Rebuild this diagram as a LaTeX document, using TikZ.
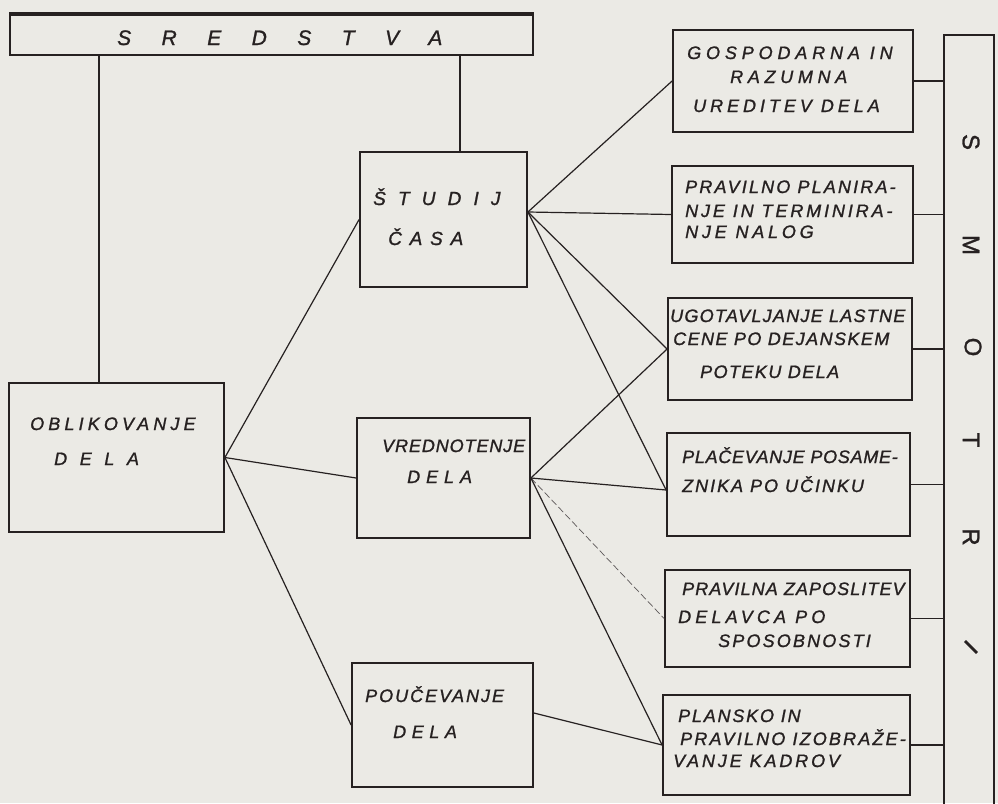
\documentclass[tikz,border=0pt]{standalone}
\usepackage{fontspec}
\setmainfont{Liberation Sans}[FakeBold=1.2]
\usetikzlibrary{calc}
\definecolor{paper}{RGB}{235,234,229}
\definecolor{ink}{RGB}{38,33,33}
\newcommand\lsp[2]{{\addfontfeature{LetterSpace=#1}#2}}
\begin{document}
\begin{tikzpicture}[x=1pt,y=-1pt,
  box/.style={draw=ink, line width=1.8pt, inner sep=0pt},
  lbl/.style={anchor=base west, inner sep=0pt, text=ink, font=\fontsize{18}{20}\selectfont\itshape},
  big/.style={inner sep=0pt, text=ink, font=\fontsize{24}{26}\selectfont},
  conn/.style={draw=ink, line width=1.2pt},
  link/.style={draw=ink, line width=1.6pt},
  faint/.style={draw=ink!75, line width=0.7pt, dash pattern=on 7pt off 3pt}]
\useasboundingbox (0,0) rectangle (998,803);
\fill[paper] (0,0) rectangle (998,803);

% boxes
\node[box, minimum width=523pt, minimum height=40pt] (sred) at (271.5,35) {};
\node[box, minimum width=167pt, minimum height=135pt] (stud) at (443.5,219.5) {};
\node[box, minimum width=215pt, minimum height=149pt] (obl) at (116.5,457.5) {};
\node[box, minimum width=173pt, minimum height=120pt] (vred) at (443.5,478) {};
\node[box, minimum width=181pt, minimum height=124pt] (pouc) at (442.5,725) {};
\node[box, minimum width=240pt, minimum height=102pt] (gosp) at (793,81) {};
\node[box, minimum width=241pt, minimum height=97pt] (plan) at (792.5,214.5) {};
\node[box, minimum width=244pt, minimum height=102pt] (ugot) at (790,349) {};
\node[box, minimum width=243pt, minimum height=103pt] (plac) at (788.5,484.5) {};
\node[box, minimum width=245pt, minimum height=97pt] (zap) at (787.5,618.5) {};
\node[box, minimum width=247pt, minimum height=100pt] (plk) at (786.5,745) {};
\node[box, minimum width=50pt, minimum height=865pt] (smotri) at (969,467.5) {};
\draw[ink, line width=3.8pt] (sred.north west) -- (sred.north east);

% texts
\node[lbl, font=\fontsize{21}{23}\selectfont\itshape] (tsred) at (117,45) {\lsp{145}{SREDSTVA}};
\node[lbl, font=\fontsize{19}{21}\selectfont\itshape] (tstud1) at (373,205) {\lsp{64}{ŠTUDIJ}};
\node[lbl, font=\fontsize{19}{21}\selectfont\itshape] (tstud2) at (388,245) {\lsp{41}{ČASA}};
\node[lbl] (tobl1) at (30,430) {\lsp{23}{OBLIKOVANJE}};
\node[lbl] (tobl2) at (54,465) {\lsp{70}{DELA}};
\node[lbl] (tvred1) at (382,452) {\lsp{5}{VREDNOTENJE}};
\node[lbl] (tvred2) at (407,483) {\lsp{33}{DELA}};
\node[lbl] (tpouc1) at (365,702) {\lsp{11}{POUČEVANJE}};
\node[lbl] (tpouc2) at (393,738) {\lsp{31}{DELA}};
\node[lbl] (tgosp1) at (687,59) {\lsp{27}{GOSPODARNA IN}};
\node[lbl] (tgosp2) at (730,83) {\lsp{26}{RAZUMNA}};
\node[lbl] (tgosp3) at (693,112) {\lsp{22}{UREDITEV DELA}};
\node[lbl] (tplan1) at (685,193) {\lsp{12}{PRAVILNO PLANIRA-}};
\node[lbl] (tplan2) at (685,217) {\lsp{16}{NJE IN TERMINIRA-}};
\node[lbl] (tplan3) at (685,238) {\lsp{21}{NJE NALOG}};
\node[lbl] (tugot1) at (670,322) {\lsp{7}{UGOTAVLJANJE LASTNE}};
\node[lbl] (tugot2) at (673,345) {\lsp{8}{CENE PO DEJANSKEM}};
\node[lbl] (tugot3) at (700,378) {\lsp{8}{POTEKU DELA}};
\node[lbl] (tplac1) at (682,463) {\lsp{4}{PLAČEVANJE POSAME-}};
\node[lbl] (tplac2) at (682,492) {\lsp{11}{ZNIKA PO UČINKU}};
\node[lbl] (tzap1) at (682,595) {\lsp{6}{PRAVILNA ZAPOSLITEV}};
\node[lbl] (tzap2) at (678,623) {\lsp{23}{DELAVCA PO}};
\node[lbl] (tzap3) at (718,647) {\lsp{12}{SPOSOBNOSTI}};
\node[lbl] (tplk1) at (678,722) {\lsp{10}{PLANSKO IN}};
\node[lbl] (tplk2) at (680,745) {\lsp{12}{PRAVILNO IZOBRAŽE-}};
\node[lbl] (tplk3) at (673,767) {\lsp{16}{VANJE KADROV}};

% SMOTRI, written downwards
\node[big, rotate=-90] (sm1) at (971,142) {S};
\node[big, rotate=-90] (sm2) at (971,245) {M};
\node[big, rotate=-90] (sm3) at (973,347) {O};
\node[big, rotate=-90] (sm4) at (971,440) {T};
\node[big, rotate=-90] (sm5) at (971,537) {R};
\node[big, rotate=45] (sm6) at (971,647) {I};

% links from SREDSTVA
\draw[link] ([xshift=91pt]obl.north west) -- ([xshift=91pt]obl.north west |- sred.south);
\draw[link] ([xshift=101pt]stud.north west) -- ([xshift=101pt]stud.north west |- sred.south);

% connectors
\draw[conn] (obl.east) -- (stud.west);
\draw[conn] (obl.east) -- (vred.west);
\draw[conn] (obl.east) -- (pouc.west);
\draw[conn] ([yshift=7.5pt]stud.east) -- (gosp.west);
\draw[conn] ([yshift=7.5pt]stud.east) -- (plan.west);
\draw[conn] ([yshift=7.5pt]stud.east) -- (ugot.west);
\draw[conn] ([yshift=7.5pt]stud.east) -- ([yshift=-5.5pt]plac.west);
\draw[conn] (vred.east) -- (ugot.west);
\draw[conn] (vred.east) -- ([yshift=-5.5pt]plac.west);
\draw[faint] (vred.east) -- (zap.west);
\draw[conn] (vred.east) -- (plk.west);
\draw[conn] ([yshift=12pt]pouc.east) -- (plk.west);

% to SMOTRI
\draw[link] (gosp.east) -- (gosp.east -| smotri.west);
\draw[link] (plan.east) -- (plan.east -| smotri.west);
\draw[link] (ugot.east) -- (ugot.east -| smotri.west);
\draw[link] (plac.east) -- (plac.east -| smotri.west);
\draw[link] (zap.east) -- (zap.east -| smotri.west);
\draw[link] (plk.east) -- (plk.east -| smotri.west);
\end{tikzpicture}
\end{document}
